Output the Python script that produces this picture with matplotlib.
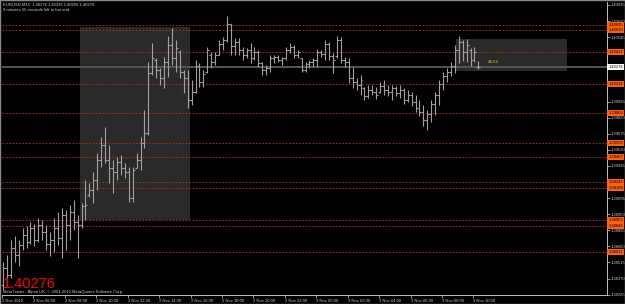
import numpy as np
import matplotlib.pyplot as plt
from matplotlib.patches import Rectangle
from matplotlib.transforms import blended_transform_factory

plt.rcParams['font.family'] = ['Liberation Sans', 'DejaVu Sans']

# EURUSD M15 bars, 2 Nov 2010 04:00 onwards
opens = [1.38315, 1.38468, 1.38405, 1.38648, 1.38585, 1.38675, 1.38765, 1.38702, 1.38828, 1.38720,
         1.38855, 1.38792, 1.38684, 1.38720, 1.38828, 1.38738, 1.38945, 1.38855, 1.38972, 1.38882,
         1.38855, 1.39026, 1.39125, 1.39170, 1.39260, 1.39440, 1.39575, 1.39440, 1.39368, 1.39332,
         1.39422, 1.39368, 1.39332, 1.39098, 1.39368, 1.39440, 1.39593, 1.39683, 1.40223, 1.40340,
         1.40250, 1.40178, 1.40322, 1.40475, 1.40358, 1.40412, 1.40232, 1.40178, 1.39980, 1.40052,
         1.40286, 1.40142, 1.40232, 1.40385, 1.40322, 1.40385, 1.40484, 1.40520, 1.40664, 1.40466,
         1.40502, 1.40430, 1.40385, 1.40430, 1.40358, 1.40412, 1.40313, 1.40250, 1.40268, 1.40358,
         1.40367, 1.40340, 1.40358, 1.40430, 1.40457, 1.40385, 1.40358, 1.40250, 1.40304, 1.40322,
         1.40340, 1.40412, 1.40394, 1.40484, 1.40376, 1.40376, 1.40520, 1.40340, 1.40322, 1.40178,
         1.40142, 1.40115, 1.40088, 1.40016, 1.40070, 1.40052, 1.40052, 1.40106, 1.40070, 1.40052,
         1.40088, 1.40043, 1.40070, 1.39980, 1.40025, 1.39962, 1.39908, 1.39872, 1.39800, 1.39854,
         1.39944, 1.40025, 1.40124, 1.40196, 1.40232, 1.40286, 1.40430, 1.40502, 1.40412, 1.40430,
         1.40340, 1.40276]
highs = [1.38522, 1.38585, 1.38720, 1.38756, 1.38720, 1.38828, 1.38846, 1.38882, 1.38864, 1.38918,
         1.38900, 1.38855, 1.38792, 1.38918, 1.38972, 1.39008, 1.38990, 1.39035, 1.39080, 1.38945,
         1.39053, 1.39260, 1.39233, 1.39332, 1.39503, 1.39647, 1.39737, 1.39575, 1.39440, 1.39467,
         1.39485, 1.39413, 1.39377, 1.39377, 1.39503, 1.39647, 1.39890, 1.40322, 1.40493, 1.40358,
         1.40268, 1.40367, 1.40556, 1.40628, 1.40520, 1.40430, 1.40250, 1.40250, 1.40160, 1.40340,
         1.40313, 1.40250, 1.40457, 1.40412, 1.40412, 1.40520, 1.40547, 1.40736, 1.40664, 1.40538,
         1.40538, 1.40457, 1.40448, 1.40493, 1.40457, 1.40430, 1.40322, 1.40295, 1.40385, 1.40385,
         1.40385, 1.40367, 1.40457, 1.40493, 1.40475, 1.40430, 1.40358, 1.40322, 1.40340, 1.40358,
         1.40439, 1.40430, 1.40520, 1.40502, 1.40403, 1.40556, 1.40547, 1.40367, 1.40358, 1.40277,
         1.40178, 1.40205, 1.40097, 1.40115, 1.40115, 1.40097, 1.40142, 1.40160, 1.40115, 1.40115,
         1.40106, 1.40115, 1.40088, 1.40070, 1.40052, 1.40025, 1.39980, 1.39935, 1.39890, 1.39980,
         1.40052, 1.40160, 1.40232, 1.40268, 1.40322, 1.40475, 1.40556, 1.40520, 1.40529, 1.40448,
         1.40457, 1.40326]
lows = [1.38270, 1.38342, 1.38378, 1.38522, 1.38486, 1.38630, 1.38648, 1.38684, 1.38666, 1.38702,
        1.38720, 1.38630, 1.38576, 1.38612, 1.38675, 1.38558, 1.38630, 1.38720, 1.38810, 1.38558,
        1.38828, 1.38900, 1.39107, 1.39053, 1.39170, 1.39377, 1.39413, 1.39233, 1.39143, 1.39260,
        1.39305, 1.39278, 1.39062, 1.39062, 1.39368, 1.39350, 1.39548, 1.39665, 1.40205, 1.40178,
        1.40115, 1.40088, 1.40187, 1.40295, 1.40232, 1.40178, 1.40043, 1.39908, 1.39935, 1.40043,
        1.40097, 1.40097, 1.40223, 1.40268, 1.40295, 1.40385, 1.40430, 1.40502, 1.40385, 1.40385,
        1.40385, 1.40340, 1.40358, 1.40313, 1.40340, 1.40277, 1.40205, 1.40205, 1.40232, 1.40313,
        1.40322, 1.40295, 1.40340, 1.40403, 1.40358, 1.40358, 1.40232, 1.40232, 1.40268, 1.40277,
        1.40277, 1.40367, 1.40340, 1.40340, 1.40223, 1.40358, 1.40313, 1.40277, 1.40133, 1.40088,
        1.40070, 1.40025, 1.39980, 1.39998, 1.40025, 1.39989, 1.40043, 1.40025, 1.40016, 1.39980,
        1.40016, 1.39998, 1.39944, 1.39962, 1.39926, 1.39872, 1.39836, 1.39746, 1.39710, 1.39782,
        1.39845, 1.39935, 1.40070, 1.40142, 1.40196, 1.40223, 1.40313, 1.40331, 1.40322, 1.40286,
        1.40322, 1.40256]
closes = [1.38468, 1.38405, 1.38648, 1.38585, 1.38675, 1.38765, 1.38702, 1.38828, 1.38720, 1.38855,
          1.38792, 1.38684, 1.38720, 1.38828, 1.38738, 1.38945, 1.38855, 1.38972, 1.38882, 1.38855,
          1.39026, 1.39035, 1.39170, 1.39260, 1.39440, 1.39575, 1.39440, 1.39368, 1.39332, 1.39422,
          1.39368, 1.39332, 1.39098, 1.39350, 1.39440, 1.39593, 1.39683, 1.40223, 1.40358, 1.40250,
          1.40178, 1.40322, 1.40475, 1.40358, 1.40448, 1.40232, 1.40178, 1.39980, 1.40052, 1.40286,
          1.40142, 1.40214, 1.40430, 1.40322, 1.40385, 1.40484, 1.40520, 1.40664, 1.40466, 1.40502,
          1.40430, 1.40385, 1.40430, 1.40358, 1.40412, 1.40313, 1.40250, 1.40268, 1.40358, 1.40367,
          1.40340, 1.40358, 1.40430, 1.40457, 1.40385, 1.40412, 1.40250, 1.40304, 1.40322, 1.40340,
          1.40412, 1.40394, 1.40484, 1.40376, 1.40340, 1.40520, 1.40340, 1.40322, 1.40178, 1.40142,
          1.40115, 1.40160, 1.40016, 1.40070, 1.40052, 1.40025, 1.40106, 1.40070, 1.40052, 1.40088,
          1.40043, 1.40070, 1.39980, 1.40025, 1.39962, 1.39908, 1.39872, 1.39800, 1.39854, 1.39944,
          1.40025, 1.40124, 1.40196, 1.40232, 1.40286, 1.40430, 1.40502, 1.40412, 1.40475, 1.40340,
          1.40412, 1.40276]

levels = [1.40655, 1.40610, 1.40412, 1.40124, 1.39863, 1.39593,
          1.39467, 1.39242, 1.39188, 1.38900, 1.38846, 1.38612]
last_price = 1.40276
price_ticks = [1.40835, 1.40690, 1.40545, 1.40400, 1.40255, 1.40110, 1.39965,
               1.39820, 1.39675, 1.39530, 1.39385, 1.39240, 1.39095, 1.38950,
               1.38805, 1.38660, 1.38515, 1.38370, 1.38225]
# labels hidden behind the level boxes are left blank
price_tick_labels = ['1.40835', '1.40690', '1.40545', '', '', '', '1.39965',
                     '1.39820', '1.39675', '1.39530', '1.39385', '', '1.39095', '1.38950',
                     '1.38805', '1.38660', '1.38515', '1.38370', '1.38225']
time_labels = ['2 Nov 2010', '2 Nov 06:00', '2 Nov 08:00', '2 Nov 10:00', '2 Nov 12:00',
               '2 Nov 14:00', '2 Nov 16:00', '2 Nov 18:00', '2 Nov 20:00', '2 Nov 22:00',
               '3 Nov 00:00', '3 Nov 02:00', '3 Nov 04:00', '3 Nov 06:00', '3 Nov 08:00',
               '3 Nov 10:00']
# drawn boxes: (bar from, bar to, price low, price high)
box_big = (19.6, 47.6, 1.38900, 1.40637)
box_small = (115.3, 143.5, 1.40241, 1.40529)
box_text = '48.66'

W, H = 625, 304
fig = plt.figure(figsize=(W / 100, H / 100), dpi=100, facecolor='black')
ax = fig.add_axes([2 / W, 9 / H, 604.5 / W, 293 / H])
ax.set_facecolor('black')
ax.set_xlim(-0.25, 153.6)
ax.set_ylim(1.38222, 1.40862)

for b in (box_big, box_small):
    ax.add_patch(Rectangle((b[0], b[2]), b[1] - b[0], b[3] - b[2],
                           facecolor='#2a2a2a', edgecolor='none', zorder=0))
ax.text(124.9, 1.40322, box_text, color='#c8c800', fontsize=3.2,
        ha='center', va='center', zorder=5)

for lv in levels:
    ax.axhline(lv, color='#b8380f', lw=0.6, ls=(0, (2, 2)), zorder=1)
ax.axhline(last_price, color='#555555', lw=1.4, zorder=1)

x = np.arange(len(opens))
bar_col = '#a0a0a0'
ax.vlines(x, lows, highs, color=bar_col, lw=0.8, zorder=3)
ax.hlines(opens, x - 0.5, x, color=bar_col, lw=0.8, zorder=3)
ax.hlines(closes, x, x + 0.5, color=bar_col, lw=0.8, zorder=3)

for s in ('top', 'left'):
    ax.spines[s].set_visible(False)
for s in ('right', 'bottom'):
    ax.spines[s].set_color('#bdbdbd')
    ax.spines[s].set_linewidth(0.7)

ax.yaxis.tick_right()
ax.set_yticks(price_ticks, price_tick_labels)
ax.tick_params(axis='y', colors='#c8c8c8', labelsize=3.0, length=2, width=0.5, pad=0.8)
ax.set_xticks([8 * k - 0.25 for k in range(len(time_labels))], time_labels)
ax.tick_params(axis='x', colors='#c8c8c8', labelsize=3, length=2.5, width=0.5, pad=0.5)
for t in ax.get_xticklabels():
    t.set_ha('left')

trans = blended_transform_factory(ax.transAxes, ax.transData)
for lv in levels:
    ax.text(1.003, lv, f'{lv:.5f}', transform=trans, fontsize=3.0, color='black',
            ha='left', va='center', clip_on=False, zorder=6,
            bbox=dict(boxstyle='square,pad=0.2', fc='#ff600f', ec='none'))
ax.text(1.003, last_price, f'{last_price:.5f}', transform=trans, fontsize=3.0,
        color='black', ha='left', va='center', clip_on=False, zorder=6,
        bbox=dict(boxstyle='square,pad=0.2', fc='white', ec='none'))

fig.text(3 / W, 1 - 5 / H, 'EURUSD,M15  1.40276 1.40326 1.40256 1.40276',
         color='#d0d0d0', fontsize=3, va='center')
fig.text(3 / W, 1 - 10 / H, '9 minutes 55 seconds left to bar end',
         color='#d0d0d0', fontsize=3, va='center')
fig.text(3 / W, 1 - 288 / H, f'{last_price:.5f}', color='#ff0000', fontsize=10.5,
         va='baseline')
fig.text(3 / W, 1 - 291.5 / H, 'MetaTrader - Alpari UK, \u00a9 2001-2010 MetaQuotes Software Corp.',
         color='#c8c8c8', fontsize=3, va='center')

fig.patches.append(Rectangle((0, 0), 1, 1, transform=fig.transFigure, fill=False,
                             edgecolor='#8a8a8a', lw=1))

fig.savefig('out.png', dpi=100, facecolor='black')
